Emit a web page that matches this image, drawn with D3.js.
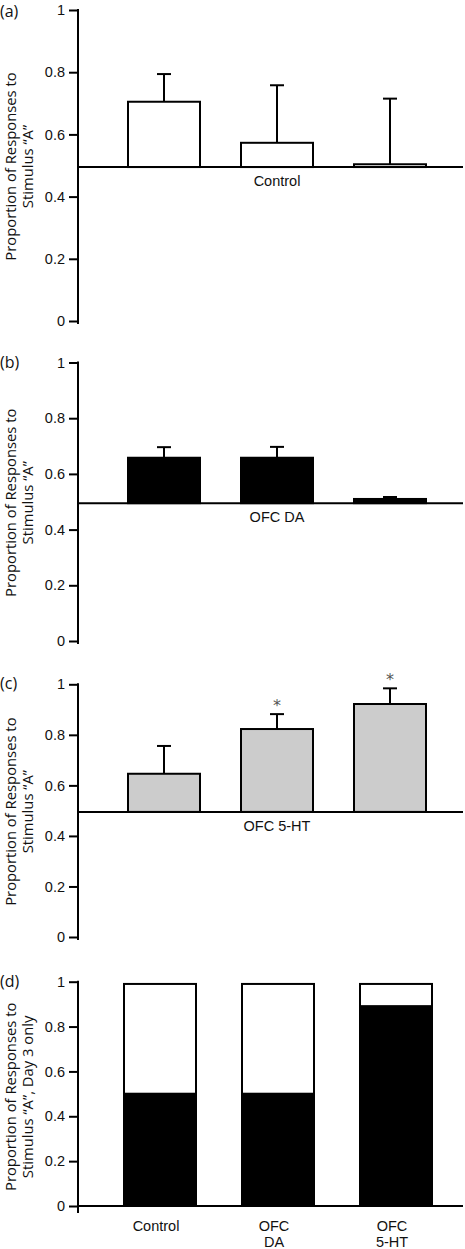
<!DOCTYPE html>
<html><head><meta charset="utf-8">
<script src="https://cdn.jsdelivr.net/npm/d3@7"></script>
<style>
body{margin:0;background:#fff;}
svg{display:block;}
.tick text{font-family:"Liberation Sans",Arial,sans-serif;font-size:14.5px;fill:#111;}
</style></head>
<body><svg id="chart" width="465" height="1249"></svg>
<script>
// ---------- data ----------
const categories = ["Control", "OFC DA", "OFC 5-HT"];
const yTicks = [0, 0.2, 0.4, 0.6, 0.8, 1];
const tickLabels = ["0", "0.2", "0.4", "0.6", "0.8", "1"];
const baselineValue = 0.495;

const controlMeans = [0.705, 0.573, 0.504];
const controlErrors = [0.089, 0.185, 0.211];
const daMeans = [0.658, 0.658, 0.510];
const daErrors = [0.038, 0.039, 0.007];
const htMeans = [0.646, 0.823, 0.922];
const htErrors = [0.110, 0.059, 0.062];
const htSignificant = [false, true, true];

const day3Groups = ["Control", "OFC\nDA", "OFC\n5-HT"];
const day3A = [0.50, 0.50, 0.89];
const day3Total = [0.99, 0.99, 0.99];

const panelLetters = ["(a)", "(b)", "(c)", "(d)"];
const groupLabels = ["Control", "OFC DA", "OFC 5-HT"];

// ---------- drawing ----------
const svg = d3.select("#chart");
const xAxisX = 78, xRight = 463, barW = 72;

function yAxis(g, y, yBottom) {
  const ax = d3.axisLeft(y).tickValues(yTicks)
    .tickFormat((d, i) => tickLabels[i]).tickSize(9).tickSizeOuter(0).tickPadding(4);
  g.attr("transform", `translate(${xAxisX},0)`).call(ax);
  g.select(".domain").remove();
  g.selectAll(".tick line").attr("stroke", "#000").attr("stroke-width", 2);
  g.append("line").attr("x1", 0).attr("x2", 0)
    .attr("y1", y(1) - 1).attr("y2", yBottom)
    .attr("stroke", "#000").attr("stroke-width", 2);
}

function axisTitle(cy, line2) {
  const t = svg.append("text")
    .attr("transform", `translate(10.5,${cy}) rotate(-90)`)
    .attr("text-anchor", "middle")
    .style("font-family", "'Open Sans', sans-serif")
    .style("font-size", "14.8px").attr("fill", "#111");
  t.append("tspan").attr("x", 0).attr("dy", "0.35em").text("Proportion of Responses to");
  t.append("tspan").attr("x", 0).attr("dy", 17.5).text(line2);
}

function panelLetter(letter, yTop) {
  svg.append("text").attr("x", 0).attr("y", Math.max(yTop + 5, 17))
    .style("font-family", "'Open Sans', sans-serif").style("font-size", "16px")
    .attr("fill", "#111").text(letter);
}

function barPanel(idx, yTop, yZero, means, errors, fill, sig) {
  const y = d3.scaleLinear().domain([0, 1]).range([yZero, yTop]);
  const x = d3.scalePoint().domain(categories).range([164, 390]);
  const g = svg.append("g");
  yAxis(g.append("g"), y, yZero + 3);
  const data = categories.map((c, i) => ({c, m: means[i], e: errors[i], s: sig ? sig[i] : false}));
  // error bars
  const eb = g.append("g").attr("stroke", "#000").attr("stroke-width", 2);
  eb.selectAll("line.v").data(data).join("line")
    .attr("x1", d => x(d.c)).attr("x2", d => x(d.c))
    .attr("y1", d => y(d.m)).attr("y2", d => y(d.m + d.e));
  eb.selectAll("line.h").data(data).join("line")
    .attr("x1", d => x(d.c) - 7).attr("x2", d => x(d.c) + 7)
    .attr("y1", d => y(d.m + d.e)).attr("y2", d => y(d.m + d.e));
  g.selectAll("rect.bar").data(data).join("rect")
    .attr("x", d => x(d.c) - barW / 2).attr("width", barW)
    .attr("y", d => y(d.m)).attr("height", d => y(baselineValue) - y(d.m))
    .attr("fill", fill).attr("stroke", "#000").attr("stroke-width", 2);
  // baseline
  g.append("line").attr("x1", xAxisX).attr("x2", xRight)
    .attr("y1", y(baselineValue)).attr("y2", y(baselineValue))
    .attr("stroke", "#000").attr("stroke-width", 2);
  g.append("text").attr("x", x(categories[1])).attr("y", y(baselineValue) + 19)
    .attr("text-anchor", "middle")
    .style("font-family", "'Liberation Sans', Arial, sans-serif").style("font-size", "14.5px")
    .attr("fill", "#111").text(groupLabels[idx]);
  g.selectAll("text.sig").data(data.filter(d => d.s)).join("text")
    .attr("x", d => x(d.c)).attr("y", d => y(d.m + d.e) - 3)
    .attr("text-anchor", "middle")
    .style("font-family", "'DejaVu Sans', sans-serif").style("font-size", "16px")
    .attr("fill", "#555").text("*");
  panelLetter(panelLetters[idx], yTop);
  axisTitle((yTop + yZero) / 2 + 1, "Stimulus \u201CA\u201D");
}

barPanel(0, 10, 321, controlMeans, controlErrors, "#fff", null);
barPanel(1, 362.5, 641, daMeans, daErrors, "#000", null);
barPanel(2, 684.3, 937, htMeans, htErrors, "#cccccc", htSignificant);

// panel d
(function () {
  const yTop = 981.7, yZero = 1206;
  const y = d3.scaleLinear().domain([0, 1]).range([yZero, yTop]);
  const x = d3.scalePoint().domain(day3Groups).range([160, 396]);
  const g = svg.append("g");
  yAxis(g.append("g"), y, yZero + 7);
  const data = day3Groups.map((c, i) => ({c, a: day3A[i], t: day3Total[i]}));
  g.selectAll("rect.white").data(data).join("rect")
    .attr("x", d => x(d.c) - barW / 2).attr("width", barW)
    .attr("y", d => y(d.t)).attr("height", d => y(d.a) - y(d.t))
    .attr("fill", "#fff").attr("stroke", "#000").attr("stroke-width", 2);
  g.selectAll("rect.black").data(data).join("rect")
    .attr("x", d => x(d.c) - barW / 2).attr("width", barW)
    .attr("y", d => y(d.a)).attr("height", d => y(0) - y(d.a))
    .attr("fill", "#000").attr("stroke", "#000").attr("stroke-width", 2);
  g.append("line").attr("x1", xAxisX).attr("x2", xRight)
    .attr("y1", y(0)).attr("y2", y(0))
    .attr("stroke", "#000").attr("stroke-width", 2);
  const lab = g.selectAll("text.cat").data(data).join("text")
    .attr("text-anchor", "middle")
    .style("font-family", "'Liberation Sans', Arial, sans-serif").style("font-size", "14.5px")
    .attr("fill", "#111")
    .attr("transform", d => `translate(${x(d.c) - 4},${yZero + 25})`);
  lab.each(function (d) {
    d.c.split("\n").forEach((s, i) => {
      d3.select(this).append("tspan").attr("x", 0).attr("y", i * 16).text(s);
    });
  });
  panelLetter(panelLetters[3], yTop);
  axisTitle((yTop + yZero) / 2 + 3, "Stimulus \u201CA\u201D, Day 3 only");
})();
</script></body></html>
